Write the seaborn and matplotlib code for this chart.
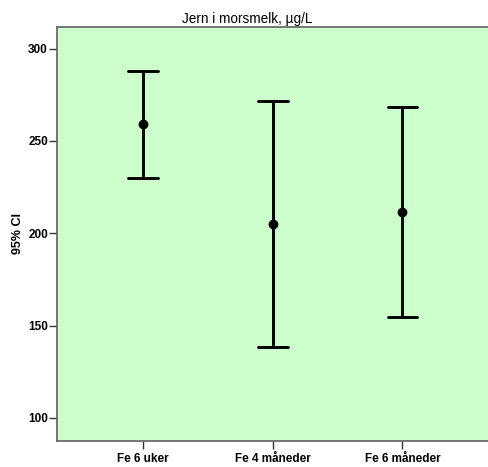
import numpy as np
import pandas as pd
import matplotlib
matplotlib.use("Agg")
import matplotlib.pyplot as plt
import seaborn as sns

# Mean and 95% confidence limits of iron in breast milk (µg/L)
groups = ["Fe 6 uker", "Fe 4 måneder", "Fe 6 måneder"]
ci_lower = [229.8, 138.6, 154.5]
means = [259.1, 205.1, 211.4]
ci_upper = [288.1, 271.7, 268.3]
yticks = [100, 150, 200, 250, 300]

# Long table: for each group the lower limit, the mean and the upper limit.
# The median of the three is the mean, and the full-range interval spans the CI.
rows = []
for g, lo, m, hi in zip(groups, ci_lower, means, ci_upper):
    for v in (lo, m, hi):
        rows.append({"group": g, "value": v})
df = pd.DataFrame(rows)

sns.set_style("white")
plt.rcParams["font.family"] = ["Liberation Sans", "DejaVu Sans"]
plt.rcParams["text.color"] = "black"
plt.rcParams["axes.labelcolor"] = "black"
plt.rcParams["xtick.color"] = "black"
plt.rcParams["ytick.color"] = "black"

fig = plt.figure(figsize=(4.88, 4.67), dpi=100)
ax = fig.add_axes([57 / 488, 26 / 467, 1 - 57 / 488, 1 - 26 / 467 - 27 / 467])
ax.set_facecolor("#CCFFCC")

sns.pointplot(
    data=df, x="group", y="value", order=groups,
    estimator="median", errorbar=("pi", 100),
    linestyle="none", color="black", markers="o",
    markersize=5, err_kws={"linewidth": 2.1}, capsize=0.23,
    ax=ax,
)

ax.set_xlim(-0.664, 2.66)
ax.set_ylim(87.5, 311.7)
ax.set_yticks(yticks)
ax.set_xlabel("")
ax.set_ylabel("95% CI", fontsize=9, fontweight="bold", labelpad=3)

for side in ("left", "top", "bottom"):
    ax.spines[side].set_visible(True)
    ax.spines[side].set_color("#6b6b6b")
    ax.spines[side].set_linewidth(1.3)
ax.spines["right"].set_visible(False)

ax.tick_params(axis="y", direction="out", length=5.5, width=1, color="#333333",
               pad=1, labelsize=8.5, left=True, labelcolor="black")
ax.tick_params(axis="x", direction="out", length=6, width=1, color="#333333",
               pad=3, labelsize=8.5, bottom=True, labelcolor="black")
for lab in ax.get_xticklabels() + ax.get_yticklabels():
    lab.set_fontweight("bold")

fig.text(247.5 / 488, 1 - 19.5 / 467, "Jern i morsmelk, µg/L",
         ha="center", va="center", fontsize=9.8, color="black")

fig.savefig("out.png", dpi=100, facecolor="white")
